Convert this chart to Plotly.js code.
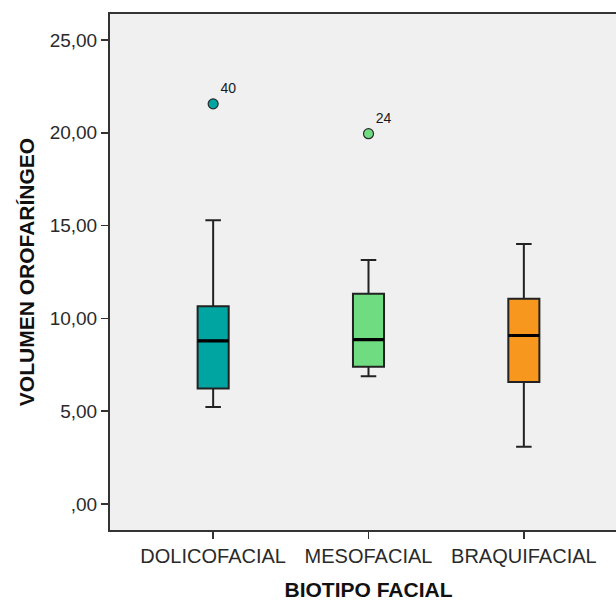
<!DOCTYPE html>
<html>
<head>
<meta charset="utf-8">
<script src="https://cdn.plot.ly/plotly-3.0.1.min.js"></script>
<style>
  html, body { margin: 0; padding: 0; background: #ffffff; overflow: hidden; }
  #chart { width: 628px; height: 601px; }
</style>
</head>
<body>
<div id="chart"></div>
<script>
// ---- data ----
const categories = ['DOLICOFACIAL', 'MESOFACIAL', 'BRAQUIFACIAL'];
const lowerWhisker = [5.23, 6.89, 3.08];
const q1Values     = [6.22, 7.39, 6.58];
const medians      = [8.79, 8.86, 9.08];
const q3Values     = [10.66, 11.33, 11.06];
const upperWhisker = [15.29, 13.14, 14.01];
const boxColors    = ['#00A5A1', '#70DC82', '#F7971E'];

const outlierCategories = ['DOLICOFACIAL', 'MESOFACIAL'];
const outlierValues     = [21.56, 19.95];
const outlierLabels     = ['40', '24'];
const outlierColors     = ['#00A5A1', '#70DC82'];

const yTickValues = [0, 5, 10, 15, 20, 25];
const yTickLabels = [',00', '5,00', '10,00', '15,00', '20,00', '25,00'];

const xTitle = 'BIOTIPO FACIAL';
const yTitle = 'VOLUMEN OROFARÍNGEO';

// ---- traces ----
const traces = [];
categories.forEach((c, i) => {
  traces.push({
    type: 'box',
    x: [c],
    lowerfence: [lowerWhisker[i]],
    q1: [q1Values[i]],
    median: [medians[i]],
    q3: [q3Values[i]],
    upperfence: [upperWhisker[i]],
    fillcolor: boxColors[i],
    line: { color: '#222', width: 2 },
    width: 0.2,
    whiskerwidth: 0.5,
    boxpoints: false,
    showlegend: false,
    hoverinfo: 'skip'
  });
});
// thicker black median line drawn on top (zero-height box at the median)
categories.forEach((c, i) => {
  traces.push({
    type: 'box',
    x: [c],
    lowerfence: [medians[i]],
    q1: [medians[i]],
    median: [medians[i]],
    q3: [medians[i]],
    upperfence: [medians[i]],
    fillcolor: 'rgba(0,0,0,0)',
    line: { color: '#000', width: 3.2 },
    width: 0.2,
    whiskerwidth: 0,
    boxpoints: false,
    showlegend: false,
    hoverinfo: 'skip'
  });
});

outlierCategories.forEach((c, i) => {
  traces.push({
    type: 'scatter',
    mode: 'markers+text',
    x: [c],
    y: [outlierValues[i]],
    text: [outlierLabels[i]],
    textposition: 'top right',
    textfont: { family: 'Liberation Sans, Arial, sans-serif', size: 14, color: '#1a1a1a' },
    marker: { size: 10, color: outlierColors[i], line: { color: '#2a2a2a', width: 1.2 } },
    showlegend: false,
    hoverinfo: 'skip'
  });
});

const layout = {
  width: 628,
  height: 601,
  margin: { l: 110, r: 1, t: 14, b: 71 },
  paper_bgcolor: '#ffffff',
  plot_bgcolor: '#F0F0F0',
  font: { family: 'Liberation Sans, Arial, sans-serif', color: '#222' },
  boxmode: 'overlay',
  showlegend: false,
  xaxis: {
    type: 'category',
    categoryorder: 'array',
    categoryarray: categories,
    range: [-0.664, 2.664],
    showgrid: false,
    zeroline: false,
    showline: true,
    linecolor: '#333',
    linewidth: 2,
    mirror: true,
    ticks: 'outside',
    ticklen: 7,
    tickwidth: 1.5,
    tickcolor: '#333',
    tickfont: { size: 20, color: '#2a2a2a' },
    title: { text: xTitle, font: { size: 21, color: '#111', weight: 'bold' }, standoff: 17 }
  },
  yaxis: {
    range: [-1.4, 26.4],
    tickvals: yTickValues,
    ticktext: yTickLabels,
    showgrid: false,
    zeroline: false,
    showline: true,
    linecolor: '#333',
    linewidth: 2,
    mirror: true,
    ticks: 'outside',
    ticklen: 7,
    tickwidth: 1.5,
    tickcolor: '#333',
    tickfont: { size: 19, color: '#2a2a2a' },
    title: { text: yTitle, font: { size: 21, color: '#111', weight: 'bold' }, standoff: 9 }
  }
};

Plotly.newPlot('chart', traces, layout, { staticPlot: true, displayModeBar: false });
</script>
</body>
</html>
